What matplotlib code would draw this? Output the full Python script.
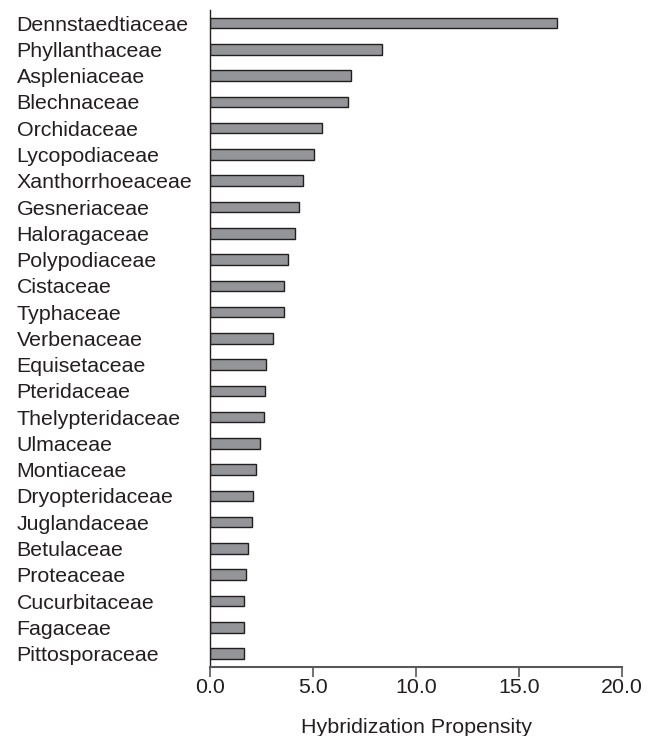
import matplotlib
matplotlib.use("Agg")
import matplotlib.pyplot as plt
import matplotlib.transforms as mtransforms

families = ["Dennstaedtiaceae", "Phyllanthaceae", "Aspleniaceae", "Blechnaceae",
            "Orchidaceae", "Lycopodiaceae", "Xanthorrhoeaceae", "Gesneriaceae",
            "Haloragaceae", "Polypodiaceae", "Cistaceae", "Typhaceae",
            "Verbenaceae", "Equisetaceae", "Pteridaceae", "Thelypteridaceae",
            "Ulmaceae", "Montiaceae", "Dryopteridaceae", "Juglandaceae",
            "Betulaceae", "Proteaceae", "Cucurbitaceae", "Fagaceae", "Pittosporaceae"]
propensity = [16.86, 8.34, 6.82, 6.69, 5.44, 5.05, 4.50, 4.31, 4.11, 3.77,
              3.59, 3.59, 3.05, 2.72, 2.66, 2.61, 2.40, 2.20, 2.07, 2.01,
              1.81, 1.75, 1.62, 1.62, 1.62]
xticks = [0, 5, 10, 15, 20]
xticklabels = ["0.0", "5.0", "10.0", "15.0", "20.0"]

plt.rcParams['font.family'] = ['Liberation Sans', 'DejaVu Sans']
FS = 15.4
TXT = '#231f20'

fig = plt.figure(figsize=(6.56, 7.36), dpi=100)
ax = fig.add_axes([0.3206, 0.0942, 0.6274, 0.8922])
pos = list(range(len(families)))
ax.barh(pos, propensity, height=0.4, color='#939598', edgecolor='#231f20', linewidth=1.0)
ax.set_ylim(24.5, -0.5)
ax.set_xlim(0, 20)
ax.set_yticks([])
trans = mtransforms.blended_transform_factory(fig.transFigure, ax.transData)
for p, name in zip(pos, families):
    ax.text(16.5 / 656, p, name, transform=trans, ha='left', va='center_baseline',
            fontsize=FS, color=TXT, clip_on=False)
ax.set_xticks(xticks)
ax.set_xticklabels(xticklabels, fontsize=FS, color=TXT)
ax.tick_params(axis='x', direction='out', length=7, width=1.2, color='#58595b', pad=1)
for s in ['top', 'right']:
    ax.spines[s].set_visible(False)
ax.spines['left'].set_color('#231f20')
ax.spines['left'].set_linewidth(1.0)
ax.spines['bottom'].set_color('#58595b')
ax.spines['bottom'].set_linewidth(1.5)
ax.set_xlabel("Hybridization Propensity", fontsize=FS, color=TXT, labelpad=15)
fig.savefig("out.png", dpi=100)
